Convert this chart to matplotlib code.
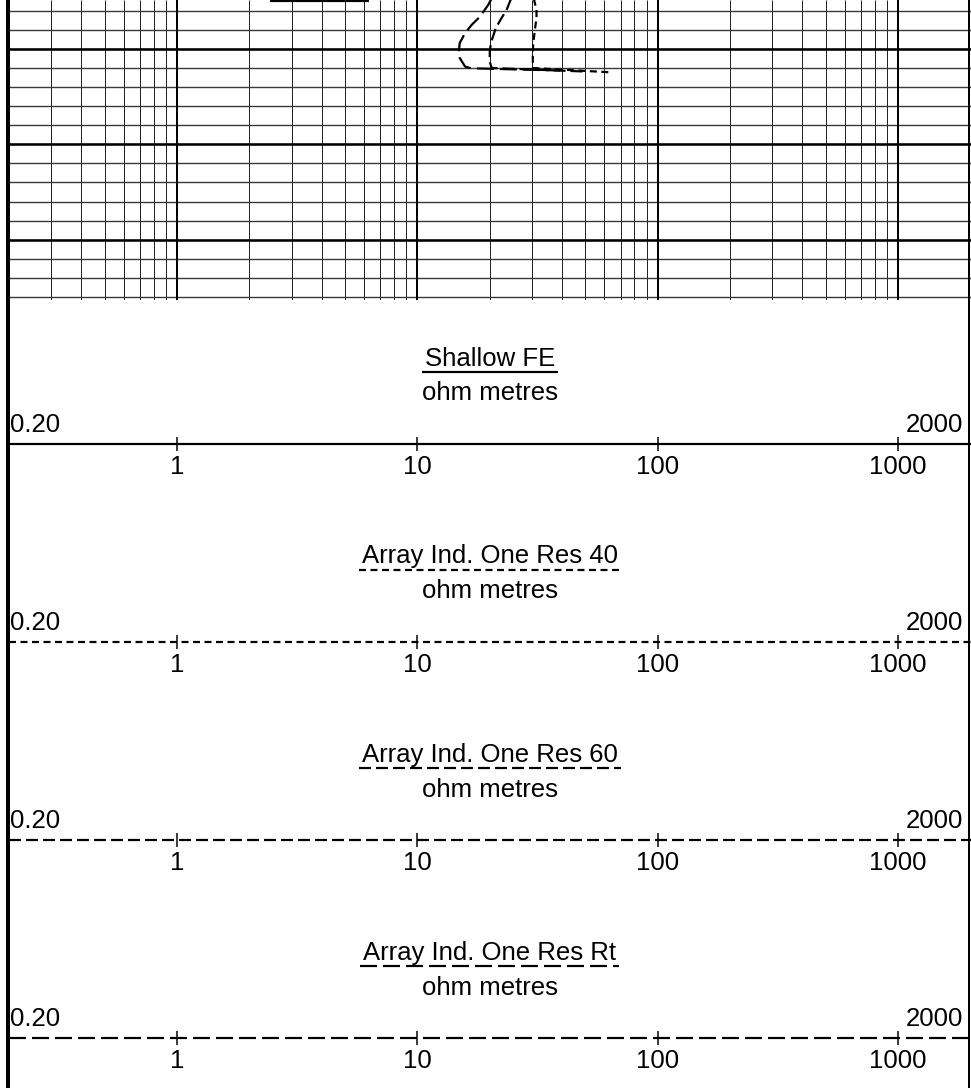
import matplotlib
matplotlib.use("Agg")
import matplotlib.pyplot as plt
import numpy as np

plt.rcParams['font.family'] = ['Liberation Sans', 'DejaVu Sans']
plt.rcParams['lines.scale_dashes'] = False
plt.rcParams['lines.solid_capstyle'] = 'butt'
plt.rcParams['lines.dash_capstyle'] = 'butt'

# ---------------- data ----------------
scale_min, scale_max = 0.2, 2000
tick_values = [1, 10, 100, 1000]
tick_labels = ["1", "10", "100", "1000"]
end_labels = ["0.20", "2000"]
unit_label = "ohm metres"

curve_names = ["Shallow FE", "Array Ind. One Res 40", "Array Ind. One Res 60", "Array Ind. One Res Rt"]

depth_top, depth_bottom = 1004.9, 1036.0
grid_minor_step, grid_major_step = 2, 10

# Shallow FE (only a short piece at the very top of the visible interval)
shallow_depth = [1004.98, 1004.98]
shallow_value = [2.44, 6.29]

# Array Ind. One Res 40 (short dash)
res40_depth = [1004.8, 1004.9, 1005.95, 1006.78, 1008.04, 1009.61, 1011.18, 1012.02, 1012.47]
res40_value = [30.4, 30.6, 31.3, 31.3, 30.8, 30.3, 30.2, 30.3, 63.2]

# Array Ind. One Res 60 (medium dash)
res60_depth = [1004.8, 1004.9, 1005.95, 1006.78, 1007.83, 1009.09, 1010.14, 1011.39, 1012.02, 1012.39]
res60_value = [24.6, 24.4, 23.5, 22.4, 21.2, 20.4, 20.0, 20.0, 20.4, 49.8]

# Array Ind. One Res Rt (long dash)
rt_depth = [1004.8, 1004.9, 1005.42, 1006.65, 1007.52, 1008.36, 1009.40, 1010.14, 1010.97, 1011.88, 1012.05, 1012.18, 1012.28]
rt_value = [20.4, 20.2, 19.7, 18.2, 16.8, 15.8, 15.0, 14.9, 15.0, 15.8, 16.8, 26.7, 39.2]

# ---------------- styles ----------------
PX = 0.72  # points per pixel at dpi 100
styles = [
    dict(linestyle='-'),
    dict(linestyle=(0, (7 * PX, 4.5 * PX))),
    dict(linestyle=(0, (12 * PX, 5 * PX))),
    dict(linestyle=(0, (17 * PX, 6 * PX))),
]

W, H = 971, 1088
fig = plt.figure(figsize=(W / 100, H / 100), dpi=100)
fig.patch.set_facecolor('white')

ax_left, ax_right = 9.0, 970.5
FS = 18.5


def rect(x0, y0, x1, y1):
    return [x0 / W, 1 - y1 / H, (x1 - x0) / W, (y1 - y0) / H]


# ---------------- grid track ----------------
grid_bottom_px = 297.0
stub_px = 2.5
px_per_depth = grid_bottom_px / (depth_bottom - depth_top)
g = fig.add_axes(rect(ax_left, 0, ax_right, grid_bottom_px + stub_px))
g.set_xscale('log')
g.set_xlim(scale_min, scale_max)
g.set_ylim(depth_bottom + stub_px / px_per_depth, depth_top)
g.axis('off')

for dec in [0.1, 1, 10, 100, 1000]:
    for m in range(2, 10):
        v = m * dec
        if scale_min < v < scale_max:
            g.axvline(v, color='#222222', lw=1.0 * PX, zorder=1)
for v in tick_values:
    g.axvline(v, color='black', lw=2.0 * PX, zorder=2)

n_lines = int(round((depth_bottom - 1006) / grid_minor_step)) + 1
for i in range(n_lines):
    d = 1006 + i * grid_minor_step
    if d % grid_major_step == 0:
        g.axhline(d, color='black', lw=2.6 * PX, zorder=2)
    else:
        g.axhline(d, color='#3a3a3a', lw=1.4 * PX, zorder=1)

curve_data = [(shallow_value, shallow_depth), (res40_value, res40_depth),
              (res60_value, res60_depth), (rt_value, rt_depth)]
for (vals, deps), st in zip(curve_data, styles):
    g.plot(vals, deps, color='black', lw=2.2 * PX, zorder=5, clip_on=True, **st)

# ---------------- headers ----------------
line_ys = [443.5, 641.5, 840.0, 1038.0]
header_axes = []
for name, st, L in zip(curve_names, styles, line_ys):
    ha_ = fig.add_axes(rect(ax_left, L - 100, ax_right, L + 45))
    ha_.set_xscale('log')
    ha_.set_xlim(scale_min, scale_max)
    ha_.set_ylim(L + 45, L - 100)
    ha_.axis('off')
    xc = np.sqrt(scale_min * scale_max)
    t = ha_.text(xc, L - 78, name, ha='center', va='baseline', fontsize=FS, color='black')
    ha_.text(xc, L - 43, unit_label, ha='center', va='baseline', fontsize=FS, color='black')
    ha_.annotate(end_labels[0], xy=(scale_min, L - 12), xytext=(1, 0), textcoords='offset pixels',
                 ha='left', va='baseline', fontsize=FS, color='black')
    ha_.annotate(end_labels[1], xy=(scale_max, L - 12), xytext=(-7, 0), textcoords='offset pixels',
                 ha='right', va='baseline', fontsize=FS, color='black')
    ha_.axhline(L, color='black', lw=2.2 * PX, **st)
    for v, lab in zip(tick_values, tick_labels):
        ha_.plot([v, v], [L - 7, L + 7], color='black', lw=1.5 * PX, linestyle='-')
        ha_.text(v, L + 30, lab, ha='center', va='baseline', fontsize=FS, color='black')
    header_axes.append((ha_, t, L, st))

fig.canvas.draw()
for ha_, t, L, st in header_axes:
    bb = t.get_window_extent()
    inv = ha_.transData.inverted()
    x0 = inv.transform((bb.x0 - 3, bb.y0))[0]
    x1 = inv.transform((bb.x1 + 3, bb.y0))[0]
    ha_.plot([x0, x1], [L - 72, L - 72], color='black', lw=2.2 * PX, **st)

# ---------------- borders ----------------
ov = fig.add_axes([0, 0, 1, 1], zorder=10)
ov.set_xlim(0, W)
ov.set_ylim(H, 0)
ov.axis('off')
ov.patch.set_alpha(0)
ov.plot([8.0, 8.0], [0, H], color='black', lw=4 * PX)
ov.plot([969.3, 969.3], [0, H], color='black', lw=2 * PX)

fig.savefig("out.png", dpi=100, facecolor='white')
